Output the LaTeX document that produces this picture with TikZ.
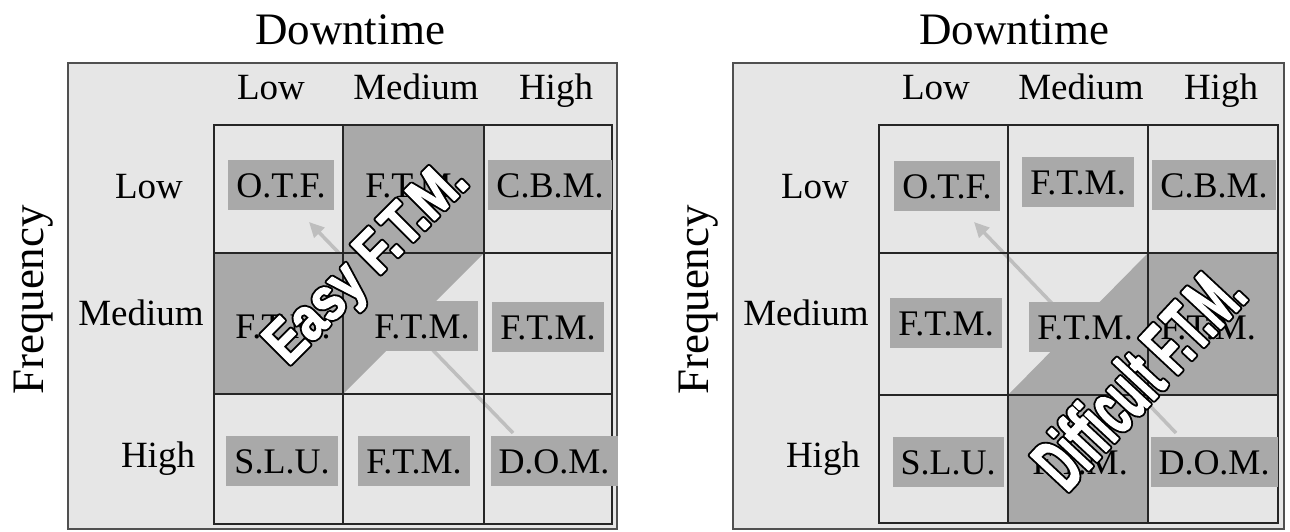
\documentclass[tikz,border=0pt]{standalone}
\usepackage{fontspec}
\setmainfont{Liberation Serif}
\newfontfamily\easyfont[FakeStretch=0.80]{Liberation Sans}
\newfontfamily\hardfont[FakeStretch=0.52]{Liberation Sans}
\usetikzlibrary{arrows.meta}

\definecolor{panelbg}{HTML}{E6E6E6}
\definecolor{darkcell}{HTML}{A9A9A9}
\definecolor{framegray}{HTML}{505050}
\definecolor{arrowgray}{HTML}{BEBEBE}

% text drawn as filled and stroked glyphs: #1 fill/stroke colour, #2 stroke width, #3 text
\newcommand\strokedtext[3]{{\color{#1}\special{pdf:code q 2 Tr #2 w 1 j}#3\special{pdf:code Q}}}

\begin{document}
\begin{tikzpicture}[x=1pt,y=-1pt,
  title/.style={font=\fontsize{45}{50}\selectfont, inner sep=0pt, anchor=base},
  axis/.style={font=\fontsize{37}{40}\selectfont, inner sep=0pt, anchor=base},
  tag/.style={fill=darkcell, font=\fontsize{36}{40}\selectfont, inner xsep=8pt,
              inner ysep=0pt, minimum height=50pt, text height=25pt, text depth=0pt},
  frame/.style={fill=panelbg, draw=framegray, line width=2.6pt},
  gridline/.style={draw=black!85, line width=2pt},
  trend/.style={draw=arrowgray, line width=3.5pt, -{Triangle[width=14pt,length=15pt]}},
  bigtag/.style={inner sep=0pt},
  easytag/.style={bigtag, rotate=45, font=\easyfont\bfseries\fontsize{61}{64}\selectfont},
  hardtag/.style={bigtag, rotate=47, font=\hardfont\bfseries\fontsize{77}{80}\selectfont},
]
\useasboundingbox (0,0) rectangle (1290,532);

% ---------------- left panel ----------------
\node[title] (Ltitle) at (350,45) {Downtime};
\node[title, rotate=90] (Lfreq) at (43,300) {Frequency};
\draw[frame] (68,63) rectangle (617,529);

\coordinate (Ltail) at (513,433);
\coordinate (Lhead) at (309,222);
\draw[trend] (Ltail) -- (Lhead);

\fill[darkcell] (343,125) rectangle (484,253);
\fill[darkcell] (214,253) rectangle (343,394);
\fill[darkcell] (343,253) -- (484,253) -- (343,394) -- cycle;

\draw[gridline] (214,125) rectangle (612,524);
\draw[gridline] (343,125) -- (343,524) (484,125) -- (484,524)
                (214,253) -- (612,253) (214,394) -- (612,394);

\node[axis] (Lc1) at (271,100) {Low};
\node[axis] (Lc2) at (416,100) {Medium};
\node[axis] (Lc3) at (556,100) {High};
\node[axis] (Lr1) at (149,198) {Low};
\node[axis] (Lr2) at (141,325) {Medium};
\node[axis] (Lr3) at (158,467) {High};

\node[tag] (L11) at (281,185) {O.T.F.};
\node[tag] (L12) at (413,185) {F.T.M.};
\node[tag] (L13) at (550,185) {C.B.M.};
\node[tag] (L21) at (283,326) {F.T.M.};
\node[tag] (L22) at (422,326) {F.T.M.};
\node[tag] (L23) at (548,327) {F.T.M.};
\node[tag] (L31) at (282,461) {S.L.U.};
\node[tag] (L32) at (414,461) {F.T.M.};
\node[tag] (L33) at (554,461) {D.O.M.};

% black rim underneath, white lettering on top
\node[easytag] (Lbigrim) at (369,265) {\strokedtext{black}{5}{Easy F.T.M.}};
\node[easytag] (Lbig) at (Lbigrim.center) {\strokedtext{white}{1.2}{Easy F.T.M.}};

% ---------------- right panel ----------------
\node[title] (Rtitle) at (1014,45) {Downtime};
\node[title, rotate=90] (Rfreq) at (708,300) {Frequency};
\draw[frame] (733,63) rectangle (1284,529);

\coordinate (Rtail) at (1176,433);
\coordinate (Rhead) at (974,222);
\draw[trend] (Rtail) -- (Rhead);

\fill[darkcell] (1148,253) rectangle (1278,395);
\fill[darkcell] (1008,395) rectangle (1148,523);
\fill[darkcell] (1148,253) -- (1148,395) -- (1008,395) -- cycle;

\draw[gridline] (879,125) rectangle (1278,523);
\draw[gridline] (1008,125) -- (1008,523) (1148,125) -- (1148,523)
                (879,253) -- (1278,253) (879,395) -- (1278,395);

\node[axis] (Rc1) at (936,100) {Low};
\node[axis] (Rc2) at (1081,100) {Medium};
\node[axis] (Rc3) at (1221,100) {High};
\node[axis] (Rr1) at (815,198) {Low};
\node[axis] (Rr2) at (806,325) {Medium};
\node[axis] (Rr3) at (823,467) {High};

\node[tag] (R11) at (947,186) {O.T.F.};
\node[tag] (R12) at (1078,182) {F.T.M.};
\node[tag] (R13) at (1214,185) {C.B.M.};
\node[tag] (R21) at (946,323) {F.T.M.};
\node[tag] (R22) at (1085,327) {F.T.M.};
\node[tag] (R23) at (1208,327) {F.T.M.};
\node[tag] (R31) at (948,462) {S.L.U.};
\node[tag] (R32) at (1080,462) {F.T.M.};
\node[tag] (R33) at (1214,462) {D.O.M.};

\node[hardtag] (Rbigrim) at (1138,377) {\strokedtext{black}{5}{Difficult F.T.M.}};
\node[hardtag] (Rbig) at (Rbigrim.center) {\strokedtext{white}{1.2}{Difficult F.T.M.}};
\end{tikzpicture}
\end{document}
